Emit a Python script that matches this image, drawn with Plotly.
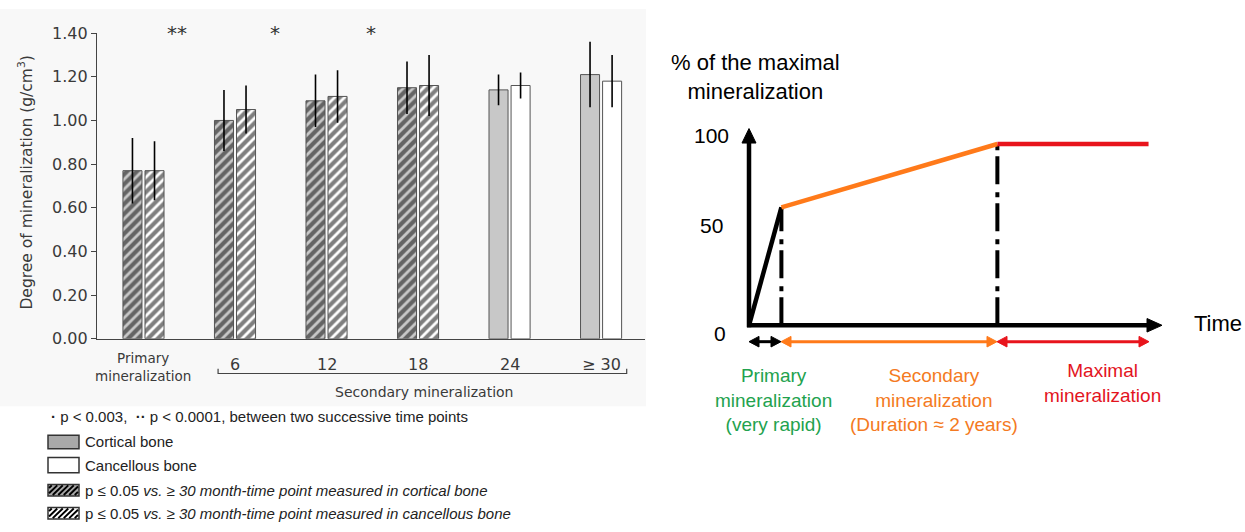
import plotly.graph_objects as go

W, H = 1245, 532

# ---------------- data: left panel ----------------
categories = ["Primary<br>mineralization", "6", "12", "18", "24", "≥ 30"]
cortical = [0.77, 1.00, 1.09, 1.15, 1.14, 1.21]
cortical_err = [0.15, 0.14, 0.12, 0.12, 0.07, 0.15]
cancellous = [0.77, 1.05, 1.11, 1.16, 1.16, 1.18]
cancellous_err = [0.135, 0.11, 0.12, 0.14, 0.06, 0.12]
signif_vs_30 = [True, True, True, True, False, False]
y_ticks = [0.0, 0.2, 0.4, 0.6, 0.8, 1.0, 1.2, 1.4]
y_tick_labels = ["0.00", "0.20", "0.40", "0.60", "0.80", "1.00", "1.20", "1.40"]
sig_labels = ["**", "*", "*"]
sig_x = [0.37, 1.44, 2.49]

# ---------------- data: right panel ----------------
phase_time = [0, 0.3, 2.3, 3.7]
phase_pct = [0, 65, 100, 100]
phase_colors = ["black", "#ff7a1a", "#e8141c"]
phase_labels = ["Primary<br>mineralization<br>(very rapid)",
                "Secondary<br>mineralization<br>(Duration ≈ 2 years)",
                "Maximal<br>mineralization"]
phase_label_colors = ["#22a24e", "#f47a22", "#e3141e"]
pct_ticks = ["100", "50", "0"]


def X(px):
    return px / W


def Y(py):
    return 1 - py / H


CHART_FONT = "DejaVu Sans"
TXT_FONT = "Arial, Liberation Sans, sans-serif"

x_idx = list(range(len(categories)))
pat_shape = ["/" if s else "" for s in signif_vs_30]

fig = go.Figure()
fig.add_trace(go.Bar(
    x=x_idx, y=cortical, name="Cortical bone",
    marker=dict(color="#c8c8c8", line=dict(color="#555555", width=1),
                pattern=dict(shape=pat_shape, fgcolor="black", bgcolor="#c8c8c8",
                             size=7, solidity=0.6)),
    error_y=dict(type="data", array=cortical_err, color="black", thickness=1.6, width=0),
    xaxis="x", yaxis="y", showlegend=False))
fig.add_trace(go.Bar(
    x=x_idx, y=cancellous, name="Cancellous bone",
    marker=dict(color="white", line=dict(color="#555555", width=1),
                pattern=dict(shape=pat_shape, fgcolor="black", bgcolor="white",
                             size=7, solidity=0.6)),
    error_y=dict(type="data", array=cancellous_err, color="black", thickness=1.6, width=0),
    xaxis="x", yaxis="y", showlegend=False))

# right panel: dash-dot guides
for i in (1, 2):
    fig.add_trace(go.Scatter(
        x=[phase_time[i], phase_time[i]], y=[0, phase_pct[i]], mode="lines",
        line=dict(color="black", width=4, dash="28px,6px,5px,8px"),
        xaxis="x2", yaxis="y2", showlegend=False, hoverinfo="skip"))
# right panel: curve segments
for i in range(3):
    fig.add_trace(go.Scatter(
        x=phase_time[i:i + 2], y=phase_pct[i:i + 2], mode="lines",
        line=dict(color=phase_colors[i], width=4.5),
        xaxis="x2", yaxis="y2", showlegend=False, hoverinfo="skip"))

ann = []
shapes = []

# left panel faint background
shapes.append(dict(type="rect", xref="paper", yref="paper", x0=0, x1=X(646), y0=Y(412), y1=1,
                   fillcolor="#f8f8f8", line=dict(width=0), layer="below"))

# category labels
for i, c in enumerate(categories):
    if i == 0:
        ann.append(dict(x=i, y=Y(371), xref="x", yref="paper", text=c, showarrow=False,
                        font=dict(family=CHART_FONT, size=13.5, color="#3a3a3a"),
                        xanchor="center", yanchor="middle"))
    else:
        ann.append(dict(x=i, y=Y(369), xref="x", yref="paper", text=c, showarrow=False,
                        font=dict(family=CHART_FONT, size=16, color="#3a3a3a"),
                        xanchor="center", yanchor="middle"))

# bracket for secondary mineralization
bx0, bx1 = 0.815, 5.28
shapes.append(dict(type="path", xref="x", yref="paper",
                   path=f"M{bx0},{Y(373)} L{bx0},{Y(378)} L{bx1},{Y(378)} L{bx1},{Y(373)}",
                   line=dict(color="#444444", width=1.2)))
ann.append(dict(x=X(424), y=Y(397), xref="paper", yref="paper", text="Secondary mineralization",
                showarrow=False, font=dict(family=CHART_FONT, size=14, color="#3a3a3a"),
                xanchor="center", yanchor="middle"))

# significance stars
for sx, sl in zip(sig_x, sig_labels):
    ann.append(dict(x=sx, y=Y(25), xref="x", yref="paper", text=sl, showarrow=False,
                    font=dict(family=CHART_FONT, size=20, color="#333333"),
                    xanchor="center", yanchor="middle"))

# y-axis title
ann.append(dict(x=X(26), y=Y(180), xref="paper", yref="paper",
                text="Degree of mineralization (g/cm<sup>3</sup>)", textangle=-90, showarrow=False,
                font=dict(family=CHART_FONT, size=15.5, color="#3a3a3a"),
                xanchor="center", yanchor="middle"))

# ---------------- legend (left, bottom) ----------------
ann.append(dict(x=X(49), y=Y(423), xref="paper", yref="paper",
                text="<b>·</b> p < 0.003,  <b>··</b> p < 0.0001, between two successive time points",
                showarrow=False, font=dict(family=TXT_FONT, size=15, color="#222222"),
                xanchor="left", yanchor="middle"))


def hatch_path(x0, y0, x1, y1, sp):
    h = y1 - y0
    segs = []
    s = x0 - h + sp / 2
    while s < x1:
        xa, ya = s, y1
        xb, yb = s + h, y0
        if xa < x0:
            ya = y1 - (x0 - s)
            xa = x0
        if xb > x1:
            yb = y1 - (x1 - s)
            xb = x1
        if xb > xa:
            segs.append(f"M{X(xa):.5f},{Y(ya):.5f} L{X(xb):.5f},{Y(yb):.5f}")
        s += sp
    return " ".join(segs)


legend_rows = [
    (449, 14, "#a9a9a9", False, "Cortical bone"),
    (473, 16, "white", False, "Cancellous bone"),
    (499, 12, "#a9a9a9", True, "p ≤ 0.05 <i>vs. ≥ 30 month-time point measured in cortical bone</i>"),
    (523, 12, "white", True, "p ≤ 0.05 <i>vs. ≥ 30 month-time point measured in cancellous bone</i>"),
]
for cy, hh, col, hatched, label in legend_rows:
    x0, x1 = 48, 79
    y0, y1 = cy - hh / 2, cy + hh / 2
    shapes.append(dict(type="rect", xref="paper", yref="paper", x0=X(x0), x1=X(x1), y0=Y(y1), y1=Y(y0),
                       fillcolor=col, line=dict(color="#333333", width=1.5)))
    if hatched:
        shapes.append(dict(type="path", xref="paper", yref="paper",
                           path=hatch_path(x0 + 1, y0 + 1, x1 - 1, y1 - 1, 5.5),
                           line=dict(color="black", width=2)))
    ann.append(dict(x=X(83), y=Y(cy), xref="paper", yref="paper", text=label, showarrow=False,
                    font=dict(family=TXT_FONT, size=15, color="#222222"),
                    xanchor="left", yanchor="middle"))


# ---------------- right panel decorations (axes and phase arrows) ----------------
def seg(xa, ya, xb, yb, col, w):
    shapes.append(dict(type="line", xref="paper", yref="paper", x0=X(xa), y0=Y(ya), x1=X(xb), y1=Y(yb),
                       line=dict(color=col, width=w)))


def head(tx, ty, dx, dy, length, half, col):
    # triangle with tip (tx,ty) pointing in direction (dx,dy) (unit, pixel space)
    bx, by = tx - dx * length, ty - dy * length
    px, py = -dy, dx
    pts = [(tx, ty), (bx + px * half, by + py * half), (bx - px * half, by - py * half)]
    path = "M" + " L".join(f"{X(a):.5f},{Y(b):.5f}" for a, b in pts) + " Z"
    shapes.append(dict(type="path", xref="paper", yref="paper", path=path,
                       fillcolor=col, line=dict(color=col, width=1)))


# y axis with arrow
seg(749, 330, 749, 134, "black", 4.5)
head(749, 124, 0, -1, 15, 7, "black")
# x axis with arrow
seg(747, 328, 1152, 328, "black", 4.5)
head(1162, 328, 1, 0, 15, 7, "black")

arrow_spans = [(749, 781, "black"), (781, 997, "#ff7a1a"), (997, 1149, "#e8141c")]
for a, b, col in arrow_spans:
    seg(a + 6, 345, b - 6, 345, col, 3)
    head(b, 345, 1, 0, 10, 5.5, col)
    head(a, 345, -1, 0, 10, 5.5, col)

# pct tick labels
for txt, px, py in zip(pct_ticks, [711, 711, 720], [131, 225, 336]):
    ann.append(dict(x=X(px), y=Y(py), xref="paper", yref="paper", text=txt, showarrow=False,
                    font=dict(family=TXT_FONT, size=21, color="black"),
                    xanchor="center", yanchor="middle"))

ann.append(dict(x=X(755), y=Y(71), xref="paper", yref="paper",
                text="% of the maximal<br>mineralization", showarrow=False,
                font=dict(family=TXT_FONT, size=22, color="black"),
                xanchor="center", yanchor="middle"))
ann.append(dict(x=X(1192), y=Y(326), xref="paper", yref="paper", text="Time", showarrow=False,
                font=dict(family=TXT_FONT, size=22, color="black"),
                xanchor="left", yanchor="middle"))

for txt, col, px, py in zip(phase_labels, phase_label_colors, [773, 934, 1102], [405, 405, 388]):
    ann.append(dict(x=X(px), y=Y(py), xref="paper", yref="paper", text=txt, showarrow=False,
                    font=dict(family=TXT_FONT, size=19, color=col),
                    xanchor="center", yanchor="middle"))

fig.update_layout(
    width=W, height=H, margin=dict(l=0, r=0, t=0, b=0),
    paper_bgcolor="white", plot_bgcolor="rgba(0,0,0,0)",
    barmode="group", bargap=0.518, bargroupgap=0.137,
    xaxis=dict(domain=[X(97), X(645)], range=[-0.508, 5.48], showline=True, linecolor="#444444",
               linewidth=1.2, showticklabels=False, ticks="", showgrid=False, zeroline=False),
    yaxis=dict(domain=[Y(342), Y(25)], range=[0, 1.4], tickvals=y_ticks, ticktext=y_tick_labels,
               showline=True, linecolor="#444444", linewidth=1.2, ticks="outside", ticklen=5,
               tickcolor="#444444", showgrid=False, zeroline=False,
               tickfont=dict(family=CHART_FONT, size=16, color="#3a3a3a")),
    xaxis2=dict(domain=[X(749), X(1160)], range=[0, 3.806], visible=False),
    yaxis2=dict(domain=[Y(328), Y(127)], range=[0, 106.9], visible=False),
    annotations=ann, shapes=shapes,
)

fig.write_html("out.html", config={"displayModeBar": False},
               post_script="document.body.style.margin='0';document.body.style.padding='0';"
                           "document.documentElement.style.overflow='hidden';")
